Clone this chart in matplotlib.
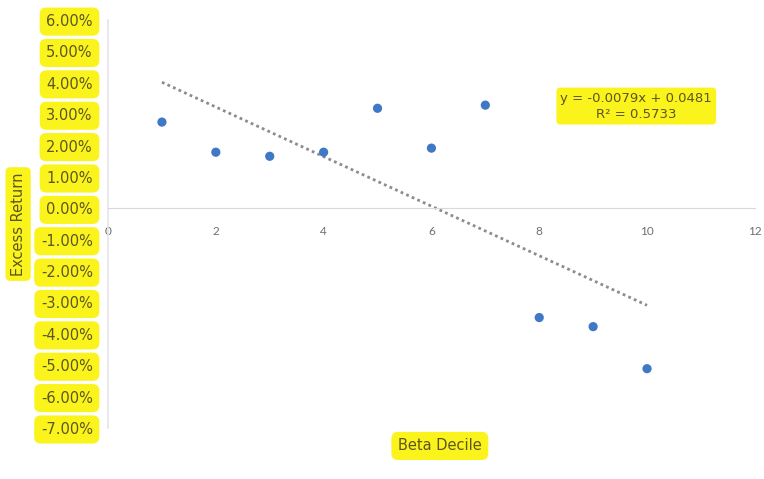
import numpy as np
import matplotlib
matplotlib.use("Agg")
import matplotlib.pyplot as plt
from matplotlib.ticker import PercentFormatter

plt.rcParams['font.family'] = ['DejaVu Sans']
plt.rcParams['axes.unicode_minus'] = False

# 贝塔十分位组合与超额收益
decile = [1, 2, 3, 4, 5, 6, 7, 8, 9, 10]
excess_return = [0.0275, 0.0179, 0.0166, 0.0179, 0.0319, 0.0192, 0.0329, -0.0348, -0.0377, -0.0511]

# 趋势线参数
slope = -0.0079
intercept = 0.0481
r2 = 0.5733

x_ticks = [0, 2, 4, 6, 8, 10, 12]
y_ticks = [0.06, 0.05, 0.04, 0.03, 0.02, 0.01, 0.0, -0.01, -0.02, -0.03, -0.04, -0.05, -0.06, -0.07]

hl = '#fbf31c'       # 荧光笔黄色
ink = '#5c5620'      # 被涂黄的文字颜色
blue = '#3f78c4'

fig = plt.figure(figsize=(7.64, 4.79), dpi=100)
ax = fig.add_axes([0.1414, 0.1065, 0.8466, 0.8515])

# 散点
ax.scatter(decile, excess_return, s=44, color=blue, zorder=3, edgecolors='none')

# 虚线趋势线
tx = np.array([decile[0], decile[-1]])
ax.plot(tx, slope * tx + intercept, color='#8c8c8c', linestyle=(0, (1, 1.2)), linewidth=2, zorder=2)

ax.set_xlim(0, 12)
ax.set_ylim(-0.07, 0.06)
ax.set_xticks(x_ticks)
ax.set_yticks(y_ticks)
ax.yaxis.set_major_formatter(PercentFormatter(1.0, decimals=2))

# 坐标轴样式
for s in ['top', 'right']:
    ax.spines[s].set_visible(False)
ax.spines['bottom'].set_position(('data', 0))
ax.spines['bottom'].set_color('#d9d9d9')
ax.spines['left'].set_color('#e4e4ee')
ax.spines['left'].set_linewidth(1.2)
ax.tick_params(axis='x', length=0, pad=13, labelcolor='#6e6e6e')
ax.tick_params(axis='y', length=0, pad=11, labelsize=10.5, labelcolor=ink)
for lab in ax.get_xticklabels():
    lab.set_fontfamily('Lato')
    lab.set_fontsize(8.5)

for lab in ax.get_yticklabels():
    lab.set_bbox(dict(boxstyle='round,pad=0.45', facecolor=hl, edgecolor='none'))

# 坐标轴标题
ax.set_xlabel('Beta Decile', fontsize=10.5, color=ink, labelpad=0, va='center',
              bbox=dict(boxstyle='round,pad=0.45', facecolor=hl, edgecolor='none'))
ax.xaxis.set_label_coords(0.513, -0.044)
ax.set_ylabel('Excess Return', fontsize=10.5, color=ink, va='center',
              bbox=dict(boxstyle='round,pad=0.35', facecolor=hl, edgecolor='none'))
ax.yaxis.set_label_coords(-0.139, 0.50)

# 趋势线公式
ax.text(9.8, 0.0326, f'y = {slope:.4f}x + {intercept:.4f}\nR² = {r2:.4f}',
        fontsize=9.5, color=ink, ha='center', va='center', linespacing=1.3,
        bbox=dict(boxstyle='round,pad=0.3', facecolor=hl, edgecolor='none'))

fig.savefig('out.png', dpi=100, facecolor='white')
